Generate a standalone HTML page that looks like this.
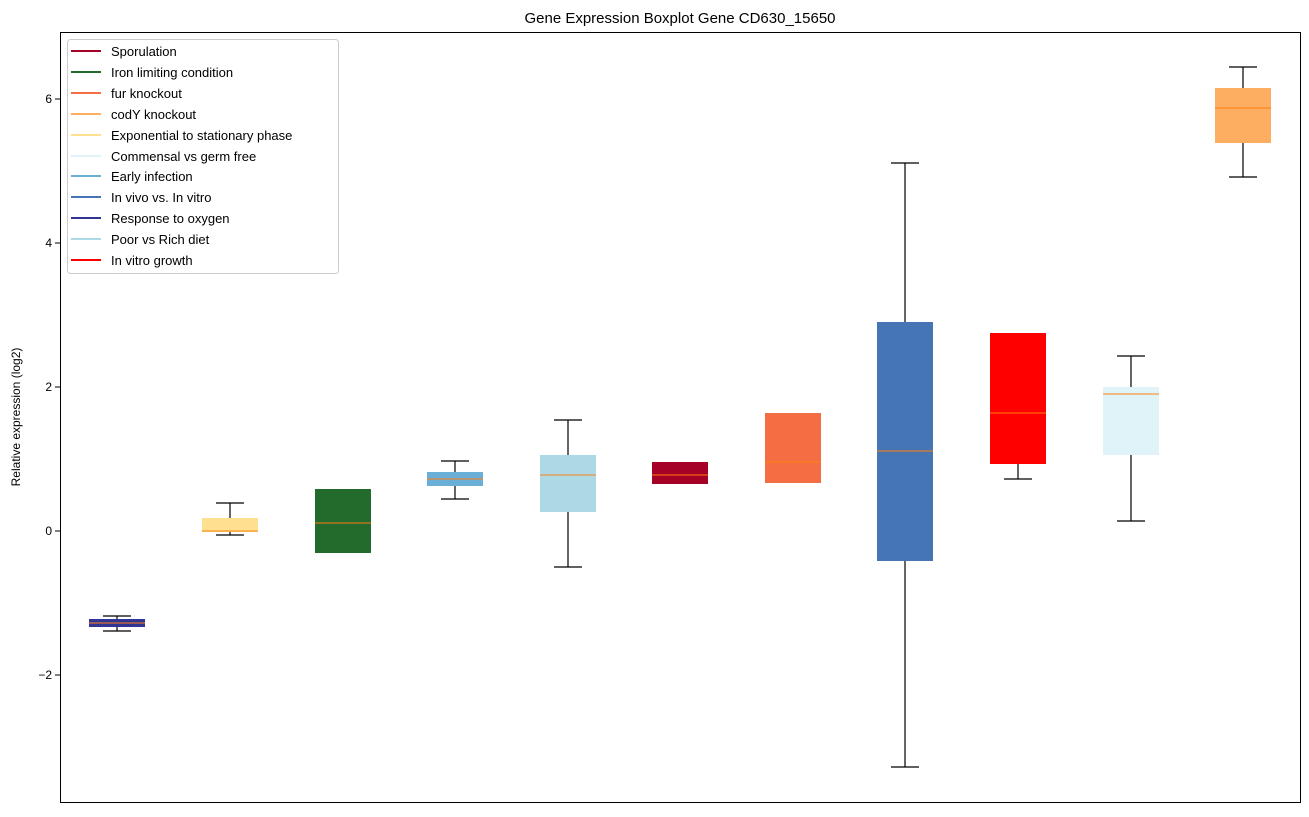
<!DOCTYPE html>
<html><head><style>body{margin:0;background:#fff}</style></head><body>
<svg width="1309" height="812" xmlns="http://www.w3.org/2000/svg" font-family="Liberation Sans, DejaVu Sans, sans-serif">
<rect width="1309" height="812" fill="#fff"/>
<text x="680" y="23" font-size="15" text-anchor="middle">Gene Expression Boxplot Gene CD630_15650</text>
<g font-size="12" text-anchor="end">
<line x1="55" x2="60" y1="99" y2="99" stroke="#000"/><text x="52" y="103">6</text>
<line x1="55" x2="60" y1="243" y2="243" stroke="#000"/><text x="52" y="247">4</text>
<line x1="55" x2="60" y1="387" y2="387" stroke="#000"/><text x="52" y="391">2</text>
<line x1="55" x2="60" y1="531" y2="531" stroke="#000"/><text x="52" y="535">0</text>
<line x1="55" x2="60" y1="675" y2="675" stroke="#000"/><text x="52" y="679">−2</text>
</g>
<text transform="translate(20,417) rotate(-90)" font-size="12" text-anchor="middle">Relative expression (log2)</text>
<g stroke="#000" stroke-width="1.2">
<!-- whiskers -->
<path d="M117 616V631M103 616H131M103 631H131"/>
<path d="M230 503V518M216 503H244M216 535H244M230 532V535"/>
<path d="M455 461V472M455 486V499M441 461H469M441 499H469"/>
<path d="M568 420V455M568 512V567M554 420H582M554 567H582"/>
<path d="M905 163V322M905 561V767M891 163H919M891 767H919"/>
<path d="M1018 464V479M1004 479H1032"/>
<path d="M1131 356V387M1131 455V521M1117 356H1145M1117 521H1145"/>
<path d="M1243 67V88M1243 143V177M1229 67H1257M1229 177H1257"/>
</g>
<g>
<rect x="89" y="619" width="56" height="8" fill="#313695"/>
<rect x="202" y="518" width="56" height="14" fill="#fee090"/>
<rect x="315" y="489" width="56" height="64" fill="#236b2d"/>
<rect x="427" y="472" width="56" height="14" fill="#6baed6"/>
<rect x="540" y="455" width="56" height="57" fill="#add8e6"/>
<rect x="652" y="462" width="56" height="22" fill="#a50026"/>
<rect x="765" y="413" width="56" height="70" fill="#f46d43"/>
<rect x="877" y="322" width="56" height="239" fill="#4575b4"/>
<rect x="990" y="333" width="56" height="131" fill="#ff0000"/>
<rect x="1103" y="387" width="56" height="68" fill="#e0f3f8"/>
<rect x="1215" y="88" width="56" height="55" fill="#fdae61"/>
</g>
<g stroke="#ff7f0e" stroke-width="1">
<path d="M89 623H145M202 531H258M315 523H371M427 479H483M540 475H596M652 475H708M765 462H821M877 451H933M990 413H1046M1103 394H1159M1215 108H1271"/>
</g>
<rect x="60.5" y="32.5" width="1240" height="770" fill="none" stroke="#000"/>
<rect x="67.5" y="39.5" width="271" height="234" rx="3" fill="#fff" fill-opacity="0.8" stroke="#ccc"/>
<g stroke-width="2">
<line x1="71" x2="101" y1="51" y2="51" stroke="#a50026"/>
<line x1="71" x2="101" y1="72" y2="72" stroke="#236b2d"/>
<line x1="71" x2="101" y1="93" y2="93" stroke="#f46d43"/>
<line x1="71" x2="101" y1="114" y2="114" stroke="#fdae61"/>
<line x1="71" x2="101" y1="135" y2="135" stroke="#fee090"/>
<line x1="71" x2="101" y1="156" y2="156" stroke="#e0f3f8"/>
<line x1="71" x2="101" y1="176" y2="176" stroke="#6baed6"/>
<line x1="71" x2="101" y1="197" y2="197" stroke="#4575b4"/>
<line x1="71" x2="101" y1="218" y2="218" stroke="#313695"/>
<line x1="71" x2="101" y1="239" y2="239" stroke="#add8e6"/>
<line x1="71" x2="101" y1="260" y2="260" stroke="#ff0000"/>
</g>
<g font-size="13">
<text x="111" y="56">Sporulation</text>
<text x="111" y="77">Iron limiting condition</text>
<text x="111" y="98">fur knockout</text>
<text x="111" y="119">codY knockout</text>
<text x="111" y="140">Exponential to stationary phase</text>
<text x="111" y="161">Commensal vs germ free</text>
<text x="111" y="181">Early infection</text>
<text x="111" y="202">In vivo vs. In vitro</text>
<text x="111" y="223">Response to oxygen</text>
<text x="111" y="244">Poor vs Rich diet</text>
<text x="111" y="265">In vitro growth</text>
</g>
</svg>
</body></html>
